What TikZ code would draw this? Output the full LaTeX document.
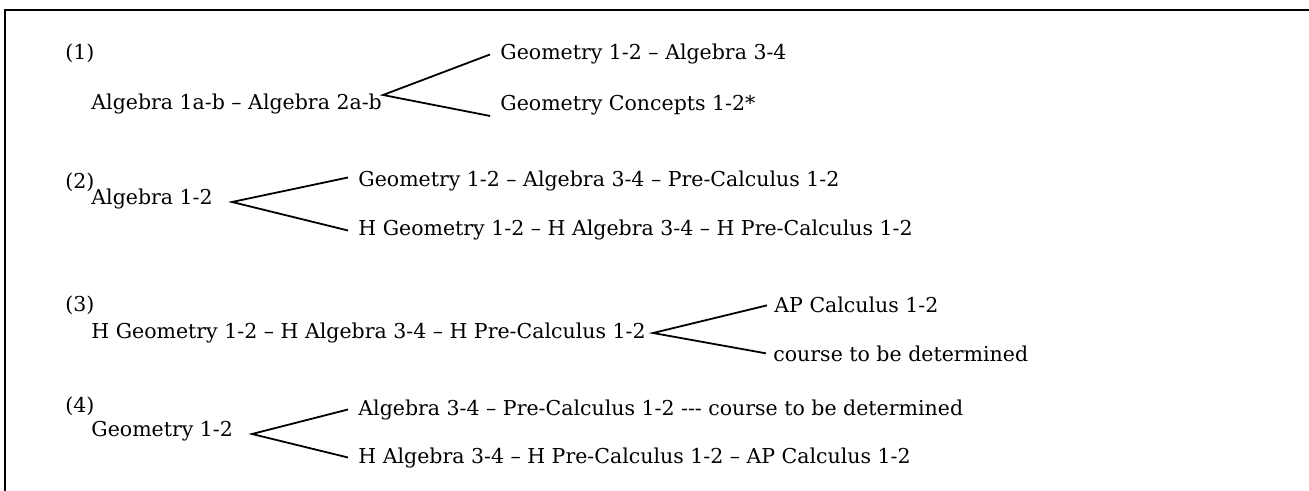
\documentclass[tikz,border=0pt]{standalone}
\usepackage{fontspec}
\setmainfont{DejaVu Serif}
\usetikzlibrary{positioning}
\tikzset{
  course/.style={anchor=base west,inner sep=0pt,font=\fontsize{10.25}{12}\selectfont},
  pathno/.style={course},
  nextcourse/.style={course,inner xsep=5pt},
  branch/.style={line width=0.9pt},
  frame/.style={line width=1.2pt}
}

\begin{document}
\begin{tikzpicture}[x=0.5pt,y=-0.5pt]
\useasboundingbox (0,0) rectangle (1309,491);
\draw[frame] (1309,10) -- (5,10) -- (5,491);
% path 1
\node[pathno] (no1) at (65,60) {(1)};
\node[course] (root1) at (91,110) {Algebra 1a-b -- Algebra 2a-b};
\coordinate (fork1) at (383,95);
\node[nextcourse] (up1) at (490,60) {Geometry 1-2 -- Algebra 3-4};
\node[nextcourse] (down1) at (490,111) {Geometry Concepts 1-2*};
\draw[branch] (up1.west) -- (fork1) -- (down1.south west);
% path 2
\node[pathno] (no2) at (65,189) {(2)};
\node[course] (root2) at (91,205) {Algebra 1-2};
\coordinate (fork2) at (232,202);
\node[nextcourse] (up2) at (348,187) {Geometry 1-2 -- Algebra 3-4 -- Pre-Calculus 1-2};
\node[nextcourse] (down2) at (348,236) {H Geometry 1-2 -- H Algebra 3-4 -- H Pre-Calculus 1-2};
\draw[branch] ([yshift=2pt]up2.west) -- (fork2) -- (down2.west);
% path 3
\node[pathno] (no3) at (65,312) {(3)};
\node[course] (root3) at (91,338) {H Geometry 1-2 -- H Algebra 3-4 -- H Pre-Calculus 1-2};
\coordinate (fork3) at (653,333);
\node[nextcourse,inner xsep=3.5pt] (up3) at (767,313) {AP Calculus 1-2};
\node[nextcourse,inner xsep=3.5pt] (down3) at (766,361) {course to be determined};
\draw[branch] (up3.west) -- (fork3) -- (down3.west);
% path 4
\node[pathno] (no4) at (65,412) {(4)};
\node[course] (root4) at (91,436) {Geometry 1-2};
\coordinate (fork4) at (252,434);
\node[nextcourse] (up4) at (348,415) {Algebra 3-4 -- Pre-Calculus 1-2 -{}-{}- course to be determined};
\node[nextcourse] (down4) at (348,463) {H Algebra 3-4 -- H Pre-Calculus 1-2 -- AP Calculus 1-2};
\draw[branch] (up4.west) -- (fork4) -- (down4.west);
\end{tikzpicture}
\end{document}
